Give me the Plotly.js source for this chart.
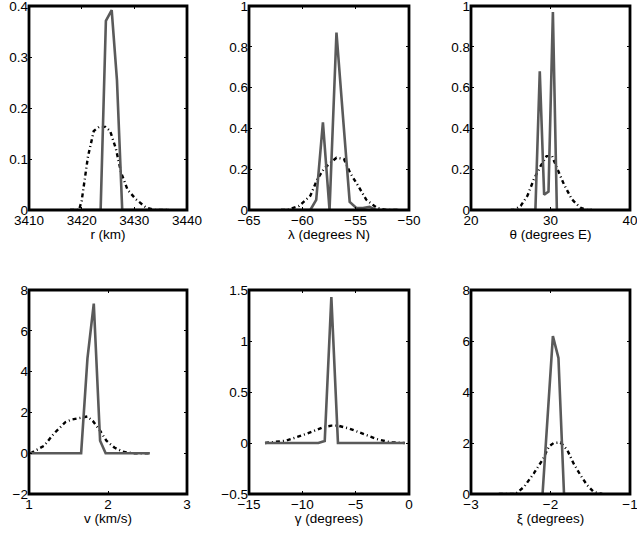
<!DOCTYPE html>
<html>
<head>
<meta charset="utf-8">
<script src="https://cdn.plot.ly/plotly-3.0.1.min.js"></script>
<style>html,body{margin:0;padding:0;background:#fff;}</style>
</head>
<body>
<div id="chart" style="width:637px;height:537px;"></div>
<script>
// Panel 1: r (km)
const rSolidX = [3417.8, 3423.6, 3424.6, 3425.7, 3426.7, 3427.7, 3436.6];
const rSolidY = [0, 0, 0.371, 0.392, 0.255, 0, 0];
const rDashX = [3417.8, 3419.5, 3420, 3421.2, 3422.3, 3423.3, 3424.5, 3425.4, 3426.5, 3427.5, 3428.7, 3430.3, 3432.2, 3434, 3436.6];
const rDashY = [0, 0, 0.018, 0.105, 0.155, 0.163, 0.163, 0.155, 0.12, 0.073, 0.04, 0.021, 0.005, 0, 0];

// Panel 2: lambda (degrees N)
const latSolidX = [-62, -59.25, -58.7, -58.07, -57.45, -56.8, -56.18, -55.56, -54.94, -54.32, -53.7, -53.08, -51];
const latSolidY = [0, 0, 0.05, 0.43, 0, 0.87, 0.45, 0.04, 0.01, 0.01, 0.015, 0, 0];
const latDashX = [-62, -61.4, -60.3, -59.25, -58.6, -58, -57.4, -56.8, -56.1, -55.5, -54.75, -54, -53, -52.1, -51];
const latDashY = [0, 0, 0.02, 0.07, 0.15, 0.2, 0.23, 0.256, 0.25, 0.18, 0.117, 0.05, 0.01, 0, 0];

// Panel 3: theta (degrees E)
const lonSolidX = [25, 28.1, 28.65, 29.2, 29.75, 30.3, 30.8, 35.2];
const lonSolidY = [0, 0, 0.68, 0.075, 0.09, 0.97, 0, 0];
const lonDashX = [25, 25.4, 26.25, 27.1, 27.9, 28.75, 29.5, 30.2, 30.8, 31.7, 32.7, 33.75, 34.6, 35.2];
const lonDashY = [0, 0, 0.02, 0.07, 0.15, 0.215, 0.264, 0.264, 0.207, 0.125, 0.052, 0.011, 0, 0];

// Panel 4: v (km/s)
const vSolidX = [1.02, 1.66, 1.74, 1.82, 1.9, 1.97, 2.53];
const vSolidY = [0, 0, 4.65, 7.33, 0.61, 0, 0];
const vDashX = [1.02, 1.19, 1.31, 1.46, 1.54, 1.67, 1.74, 1.81, 1.9, 1.98, 2.08, 2.19, 2.31, 2.53];
const vDashY = [0, 0.36, 0.94, 1.52, 1.65, 1.77, 1.8, 1.57, 1.1, 0.61, 0.28, 0.07, 0, 0];

// Panel 5: gamma (degrees)
const gSolidX = [-13.5, -8.5, -7.9, -7.28, -6.66, -0.4];
const gSolidY = [0, 0, 0.02, 1.43, 0, 0];
const gDashX = [-13.5, -11.5, -9.6, -8.06, -7.28, -6.66, -5.56, -4.3, -3.06, -1.8, -0.4];
const gDashY = [0, 0.023, 0.09, 0.155, 0.17, 0.17, 0.14, 0.09, 0.04, 0.007, 0];

// Panel 6: xi (degrees)
const xiSolidX = [-2.65, -2.1, -1.97, -1.9, -1.83, -1.35];
const xiSolidY = [0, 0, 6.19, 5.34, 0, 0];
const xiDashX = [-2.65, -2.44, -2.33, -2.21, -2.1, -2.02, -1.96, -1.875, -1.79, -1.71, -1.625, -1.54, -1.46, -1.375, -1.35];
const xiDashY = [0, 0, 0.29, 0.81, 1.34, 1.86, 2.0, 2.02, 1.73, 1.2, 0.75, 0.35, 0.09, 0, 0];

const axisTitles = ['r (km)', 'λ (degrees N)', 'θ (degrees E)', 'v (km/s)', 'γ (degrees)', 'ξ (degrees)'];
const xRanges = [[3410, 3440], [-65, -50], [20, 40], [1, 3], [-15, 0], [-3, -1]];
const xTicks = [
  [3410, 3420, 3430, 3440],
  [-65, -60, -55, -50],
  [20, 30, 40],
  [1, 2, 3],
  [-15, -10, -5, 0],
  [-3, -2, -1]
];
const yRanges = [[0, 0.4], [0, 1], [0, 1], [-2, 8], [-0.5, 1.5], [0, 8]];
const yTicks = [
  [0, 0.1, 0.2, 0.3, 0.4],
  [0, 0.2, 0.4, 0.6, 0.8, 1],
  [0, 0.2, 0.4, 0.6, 0.8, 1],
  [-2, 0, 2, 4, 6, 8],
  [-0.5, 0, 0.5, 1, 1.5],
  [0, 2, 4, 6, 8]
];

const panels = [
  [rSolidX, rSolidY, rDashX, rDashY],
  [latSolidX, latSolidY, latDashX, latDashY],
  [lonSolidX, lonSolidY, lonDashX, lonDashY],
  [vSolidX, vSolidY, vDashX, vDashY],
  [gSolidX, gSolidY, gDashX, gDashY],
  [xiSolidX, xiSolidY, xiDashX, xiDashY]
];

const W = 637, H = 537;
const xPix = [[29, 187], [249, 409], [471, 630]];
const yPix = [[6, 210], [290, 494]];
const FONT = '"Liberation Sans", Arial, sans-serif';

function fmt(v) {
  const s = String(v);
  return v < 0 ? '\u2212' + s.slice(1) : s;
}

const traces = [];
const shapes = [];
const layout = {
  width: W, height: H,
  margin: {l: 0, r: 0, t: 0, b: 0},
  paper_bgcolor: '#fff', plot_bgcolor: '#fff',
  showlegend: false,
  font: {family: FONT, size: 13, color: '#000'}
};

panels.forEach((p, i) => {
  const n = i + 1;
  const xa = n === 1 ? 'x' : 'x' + n;
  const ya = n === 1 ? 'y' : 'y' + n;
  traces.push({x: p[2], y: p[3], xaxis: xa, yaxis: ya, mode: 'lines', type: 'scatter',
    line: {color: '#000', width: 2.4, dash: '4px,3px,1px,3px'}, hoverinfo: 'skip'});
  traces.push({x: p[0], y: p[1], xaxis: xa, yaxis: ya, mode: 'lines', type: 'scatter',
    line: {color: '#5a5a5a', width: 2.6}, hoverinfo: 'skip'});
  const col = i % 3, row = Math.floor(i / 3);
  const common = {
    showline: false, mirror: 'ticks',
    ticks: 'inside', ticklen: 3, tickwidth: 1, tickcolor: '#000',
    showgrid: false, zeroline: false, fixedrange: true,
    ticklabeloverflow: 'allow',
    tickfont: {family: FONT, size: 13.5, color: '#000'}
  };
  layout['xaxis' + (n === 1 ? '' : n)] = Object.assign({}, common, {
    domain: [xPix[col][0] / W, xPix[col][1] / W],
    anchor: ya, range: xRanges[i],
    tickmode: 'array', tickvals: xTicks[i], ticktext: xTicks[i].map(fmt),
    title: {text: axisTitles[i], font: {family: FONT, size: 13.5, color: '#000'}, standoff: 1}
  });
  layout['yaxis' + (n === 1 ? '' : n)] = Object.assign({}, common, {
    domain: [1 - yPix[row][1] / H, 1 - yPix[row][0] / H],
    anchor: xa, range: yRanges[i],
    tickmode: 'array', tickvals: yTicks[i], ticktext: yTicks[i].map(fmt)
  });
  shapes.push({type: 'rect', xref: xa + ' domain', yref: ya + ' domain',
    x0: 0, x1: 1, y0: 0, y1: 1, line: {color: '#000', width: 2.8}, layer: 'above'});
});
layout.shapes = shapes;

Plotly.newPlot('chart', traces, layout, {staticPlot: true});
</script>
</body>
</html>
